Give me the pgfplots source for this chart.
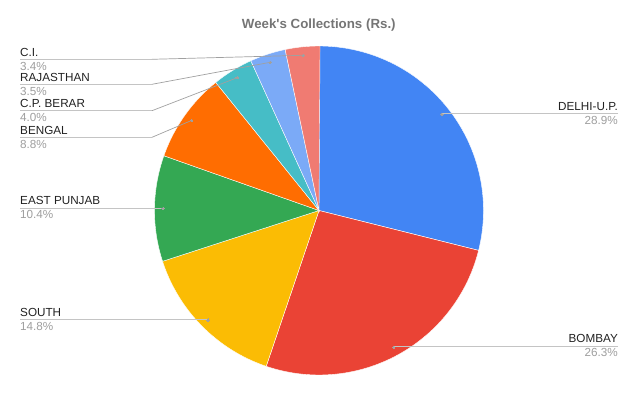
\documentclass[border=0pt]{standalone}
\usepackage{pgfplots}
\pgfplotsset{compat=1.18}
\usepackage{fontspec}
\newfontfamily\chartfont{Liberation Sans}

\definecolor{cDelhi}{HTML}{4285F4}
\definecolor{cBombay}{HTML}{EA4335}
\definecolor{cSouth}{HTML}{FBBC04}
\definecolor{cPunjab}{HTML}{34A853}
\definecolor{cBengal}{HTML}{FF6D01}
\definecolor{cBerar}{HTML}{46BDC6}
\definecolor{cRajasthan}{HTML}{7BAAF7}
\definecolor{cCI}{HTML}{F07B72}
\definecolor{nameText}{HTML}{222222}
\definecolor{pctText}{HTML}{9E9E9E}
\definecolor{titleText}{HTML}{757575}
\definecolor{leadLight}{HTML}{C4C4C4}
\definecolor{leadDark}{HTML}{A0A0A0}

\tikzset{
  namelbl/.style={font=\chartfont\fontsize{11.7}{14}\selectfont, text=nameText, inner sep=0pt},
  pctlbl/.style={font=\chartfont\fontsize{11.7}{14}\selectfont, text=pctText, inner sep=0pt},
}

% pie centre (319,183.5), radius 164.5; slices run clockwise from 12 o'clock
% #1 = share already used (percent), #2 = share (percent), #3 = colour
\newcommand\pieslice[3]{%
  \pgfmathsetmacro\angA{90-3.6*(#1+#2)}%
  \pgfmathsetmacro\angB{90-3.6*(#1)}%
  \addplot[fill=#3, draw=white, line width=0.4pt, mark=none,
    domain=\angA:\angB, samples=120, variable=\t]
    ({319+164.5*cos(\t)},{183.5+164.5*sin(\t)}) -- (axis cs:319,183.5) -- cycle;
}

% leader line: label underline from x=#3 to x=#4 at height #5, then to a dot
% placed on the slice's middle angle (#1 = share already used, #2 = share)
\newcommand\leader[5]{%
  \pgfmathsetmacro\midang{90-3.6*(#1+0.5*#2)}%
  \pgfmathsetmacro\dx{319+156*cos(\midang)}%
  \pgfmathsetmacro\dy{183.5+156*sin(\midang)}%
  \edef\tmp{%
    \noexpand\addplot[draw=leadLight, line width=0.9pt, mark=none] coordinates {(#3,#5) (#4,#5)};
    \noexpand\addplot[draw=leadDark, line width=0.7pt, mark=none] coordinates {(#4,#5) (\dx,\dy)};
    \noexpand\addplot[color=leadDark, only marks, mark=*, mark size=1.2pt,
      mark options={fill=leadDark, draw=leadDark, line width=0pt}] coordinates {(\dx,\dy)};
  }\tmp
}

\begin{document}
\begin{tikzpicture}
\useasboundingbox (0,0) rectangle (638pt,394pt);
\begin{axis}[
  x=1pt, y=1pt, xmin=0, xmax=638, ymin=0, ymax=394,
  scale only axis, hide axis, clip=false,
  anchor=south west, at={(0,0)},
]
% Week's collections, percent of total
\pieslice{0}{28.9}{cDelhi}
\pieslice{28.9}{26.3}{cBombay}
\pieslice{55.2}{14.8}{cSouth}
\pieslice{70.0}{10.4}{cPunjab}
\pieslice{80.4}{8.8}{cBengal}
\pieslice{89.2}{4.0}{cBerar}
\pieslice{93.2}{3.5}{cRajasthan}
\pieslice{96.7}{3.4}{cCI}

% leaders
\leader{96.7}{3.4}{20}{152}{334.7}
\leader{93.2}{3.5}{20}{152}{309.7}
\leader{89.2}{4.0}{20}{152}{283.3}
\leader{80.4}{8.8}{20}{152}{256.7}
\leader{70.0}{10.4}{20}{163}{186.0}
\leader{55.2}{14.8}{20}{208}{74.7}
\leader{0}{28.9}{618}{442}{280.3}
\leader{28.9}{26.3}{618}{394}{48.0}

% left labels
\node[anchor=base west, namelbl] at (axis cs:20,337.7) {C.I.};
\node[anchor=base west, pctlbl]  at (axis cs:20,323.7) {3.4\%};
\node[anchor=base west, namelbl] at (axis cs:20,312.7) {RAJASTHAN};
\node[anchor=base west, pctlbl]  at (axis cs:20,298.7) {3.5\%};
\node[anchor=base west, namelbl] at (axis cs:20,286.3) {C.P. BERAR};
\node[anchor=base west, pctlbl]  at (axis cs:20,272.3) {4.0\%};
\node[anchor=base west, namelbl] at (axis cs:20,259.7) {BENGAL};
\node[anchor=base west, pctlbl]  at (axis cs:20,245.7) {8.8\%};
\node[anchor=base west, namelbl] at (axis cs:20,189.0) {EAST PUNJAB};
\node[anchor=base west, pctlbl]  at (axis cs:20,175.0) {10.4\%};
\node[anchor=base west, namelbl] at (axis cs:20,77.7) {SOUTH};
\node[anchor=base west, pctlbl]  at (axis cs:20,63.7) {14.8\%};
% right labels
\node[anchor=base east, namelbl] at (axis cs:618,283.3) {DELHI-U.P.};
\node[anchor=base east, pctlbl]  at (axis cs:618,269.3) {28.9\%};
\node[anchor=base east, namelbl] at (axis cs:618,51.0) {BOMBAY};
\node[anchor=base east, pctlbl]  at (axis cs:618,37.0) {26.3\%};

% title
\node[anchor=base, text=titleText, inner sep=0pt,
  font=\chartfont\bfseries\fontsize{13.3}{16}\selectfont]
  at (axis cs:318.8,365.7) {Week's Collections (Rs.)};
\end{axis}
\end{tikzpicture}
\end{document}
